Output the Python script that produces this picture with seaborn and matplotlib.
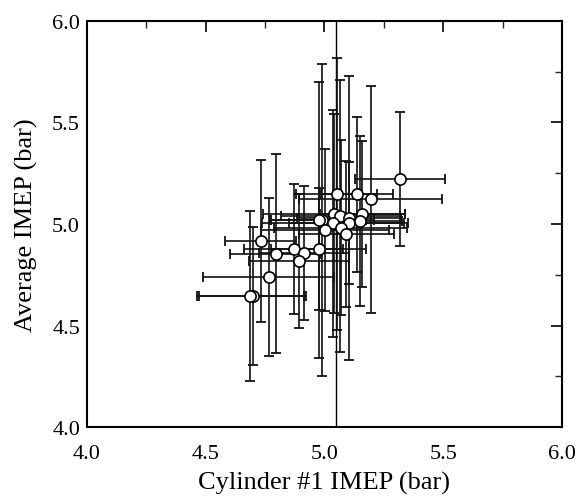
import numpy as np
import pandas as pd
import matplotlib
matplotlib.use("Agg")
import matplotlib.pyplot as plt
import seaborn as sns
from matplotlib.ticker import MultipleLocator, FormatStrFormatter

cyl1_imep = [5.317, 5.051, 5.137, 5.194, 5.039, 5.067, 5.103, 5.159, 4.989, 4.975,
             5.036, 5.102, 5.148, 5.068, 5.002, 5.091, 4.731, 4.870, 4.915, 4.975,
             4.794, 4.894, 4.765, 4.698, 4.688]
avg_imep = [5.220, 5.146, 5.146, 5.122, 5.051, 5.039, 5.028, 5.051, 5.020, 5.020,
            5.003, 5.003, 5.015, 4.982, 4.969, 4.949, 4.916, 4.878, 4.857, 4.875,
            4.854, 4.818, 4.739, 4.645, 4.645]
cyl1_err = [0.19, 0.17, 0.15, 0.30, 0.30, 0.25, 0.22, 0.18, 0.22, 0.20,
            0.30, 0.25, 0.18, 0.28, 0.27, 0.20, 0.15, 0.21, 0.19, 0.20,
            0.19, 0.21, 0.275, 0.225, 0.225]
avg_err = [0.33, 0.67, 0.38, 0.56, 0.49, 0.67, 0.70, 0.36, 0.77, 0.68,
           0.56, 0.30, 0.42, 0.43, 0.40, 0.36, 0.40, 0.32, 0.33, 0.30,
           0.49, 0.33, 0.39, 0.34, 0.42]
ref_line_x = 5.05

df = pd.DataFrame({"x": cyl1_imep, "y": avg_imep, "xe": cyl1_err, "ye": avg_err})

sns.set_theme(style="white")
plt.rcParams['font.family'] = ['Liberation Serif', 'DejaVu Serif']

fig = plt.figure(figsize=(5.78, 5.02), dpi=100)
ax = fig.add_axes([0.1505, 0.1474, 0.8218, 0.8088])

ax.axvline(ref_line_x, color="black", lw=1.0, zorder=1)
ax.errorbar(df["x"], df["y"], xerr=df["xe"], yerr=df["ye"], fmt="none",
            ecolor="#111111", elinewidth=1.2, capsize=3.5, capthick=1.3, zorder=2)
sns.scatterplot(data=df, x="x", y="y", ax=ax, marker="o", s=65,
                color="white", edgecolor="black", linewidth=1.2, zorder=3)

ax.set_xlim(4.0, 6.0)
ax.set_ylim(4.0, 6.0)
ax.xaxis.set_major_locator(MultipleLocator(0.5))
ax.yaxis.set_major_locator(MultipleLocator(0.5))
ax.xaxis.set_minor_locator(MultipleLocator(0.25))
ax.yaxis.set_minor_locator(MultipleLocator(0.25))
ax.xaxis.set_major_formatter(FormatStrFormatter("%.1f"))
ax.yaxis.set_major_formatter(FormatStrFormatter("%.1f"))
ax.tick_params(which="major", direction="in", length=8, width=1.2,
               top=True, right=True, labelsize=16, colors="black", pad=5)
ax.tick_params(axis="x", which="major", pad=12)
ax.tick_params(which="minor", direction="in", length=5, width=1.0,
               top=True, right=True)
for s in ax.spines.values():
    s.set_linewidth(1.5)
    s.set_color("black")
ax.set_xlabel("Cylinder #1 IMEP (bar)", fontsize=19, color="black", labelpad=6)
ax.set_ylabel("Average IMEP (bar)", fontsize=19, color="black", labelpad=10)

fig.savefig("out.png", dpi=100)
